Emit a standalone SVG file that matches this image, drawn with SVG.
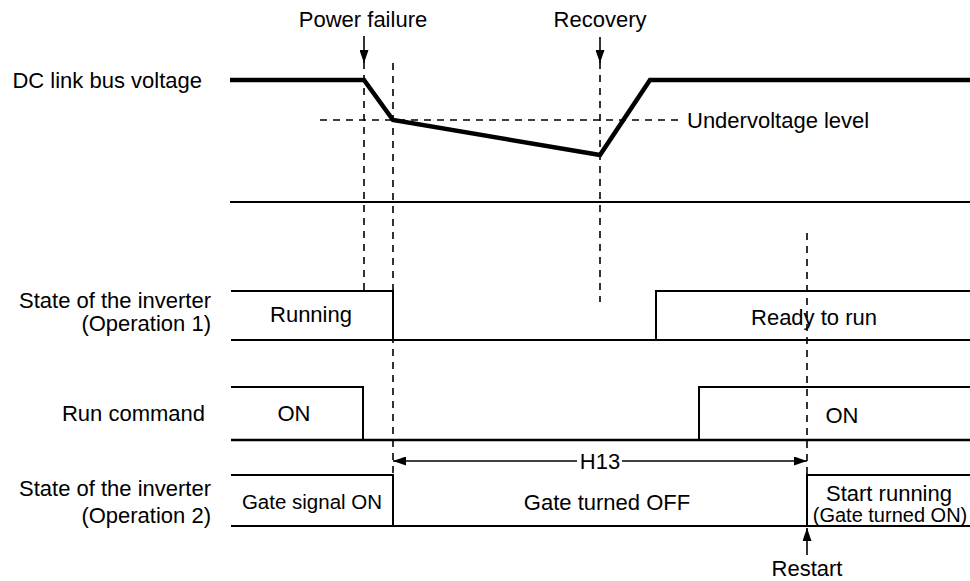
<svg xmlns="http://www.w3.org/2000/svg" width="970" height="581" viewBox="0 0 970 581">
<defs>
<style>
text{font-family:"Liberation Sans",Arial,sans-serif;font-size:22px;fill:#000}
.end{text-anchor:end}
.mid{text-anchor:middle}
.sig{fill:none;stroke:#000;stroke-width:2}
.thick{fill:none;stroke:#000;stroke-width:4.5;stroke-linejoin:miter}
.dash{fill:none;stroke:#000;stroke-width:1.6;stroke-dasharray:7 6}
.arr{fill:none;stroke:#000;stroke-width:1.6}
</style>
<marker id="ah" viewBox="0 0 13 9" refX="13" refY="4.5" markerWidth="13" markerHeight="9" markerUnits="userSpaceOnUse" orient="auto">
<path d="M0,0 L13,4.5 L0,9 Z" fill="#000"/>
</marker>
</defs>
<rect width="970" height="581" fill="#fff"/>

<g id="dc-voltage">
<text class="end" x="202" y="88">DC link bus voltage</text>
<polyline class="thick" points="230,80 364,80 393,120 600,155 650,80 970,80"/>
<line class="dash" x1="320" y1="120" x2="678" y2="120"/>
<text x="687" y="128">Undervoltage level</text>
<line class="sig" x1="230" y1="202" x2="970" y2="202"/>
</g>

<g id="operation1">
<text class="end" x="211" y="308">State of the inverter</text>
<text class="end" x="211" y="331">(Operation 1)</text>
<polyline class="sig" points="231,291 393,291 393,340"/>
<line class="sig" x1="231" y1="340" x2="970" y2="340"/>
<polyline class="sig" points="656,340 656,291 970,291"/>
<text class="mid" x="311" y="322">Running</text>
<text class="mid" x="814" y="325">Ready to run</text>
</g>

<g id="run-command">
<text class="end" x="205" y="421">Run command</text>
<polyline class="sig" points="231,387 363,387 363,440"/>
<line class="sig" x1="231" y1="440" x2="970" y2="440" style="stroke-width:2.5"/>
<polyline class="sig" points="699,440 699,387 970,387"/>
<text class="mid" x="294" y="421">ON</text>
<text class="mid" x="842" y="423">ON</text>
</g>

<g id="operation2">
<text class="end" x="211" y="496">State of the inverter</text>
<text class="end" x="211" y="523">(Operation 2)</text>
<polyline class="sig" points="231,475 393,475 393,526"/>
<line class="sig" x1="231" y1="526" x2="970" y2="526"/>
<polyline class="sig" points="807,526 807,475 970,475"/>
<text class="mid" x="312" y="509" style="font-size:20.5px">Gate signal ON</text>
<text class="mid" x="607" y="510">Gate turned OFF</text>
<text class="mid" x="889" y="501">Start running</text>
<text class="mid" x="890" y="522" style="font-size:20px">(Gate turned ON)</text>
</g>

<g id="connectors">
<line class="dash" x1="364" y1="62" x2="364" y2="291"/>
<line class="dash" x1="393" y1="63" x2="393" y2="475"/>
<line class="dash" x1="600" y1="62" x2="600" y2="302"/>
<line class="dash" x1="807" y1="233" x2="807" y2="475"/>
<line class="arr" x1="364" y1="36" x2="364" y2="63" marker-end="url(#ah)"/>
<text class="mid" x="363" y="27">Power failure</text>
<line class="arr" x1="600" y1="37" x2="600" y2="63" marker-end="url(#ah)"/>
<text class="mid" x="600" y="27">Recovery</text>
<line class="arr" x1="577" y1="461" x2="393" y2="461" marker-end="url(#ah)"/>
<line class="arr" x1="622" y1="461" x2="807" y2="461" marker-end="url(#ah)"/>
<text class="mid" x="600" y="469">H13</text>
<line class="arr" x1="807" y1="555" x2="807" y2="528" marker-end="url(#ah)"/>
<text class="mid" x="807" y="576">Restart</text>
</g>
</svg>
